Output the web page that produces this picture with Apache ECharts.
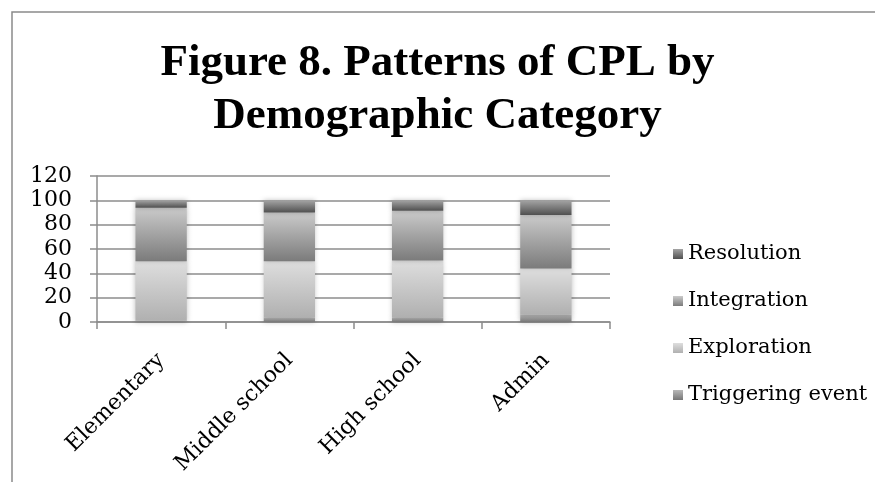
<!DOCTYPE html>
<html>
<head>
<meta charset="utf-8">
<script src="https://cdn.jsdelivr.net/npm/echarts@6/dist/echarts.min.js"></script>
<style>
html,body{margin:0;padding:0;background:#fff;}
#chart{width:875px;height:482px;}
</style>
</head>
<body>
<div id="chart"></div>
<script>
const categories = ['Elementary', 'Middle school', 'High school', 'Admin'];
const triggering = [1, 4, 4, 6];
const exploration = [49, 46, 46.5, 38];
const integration = [44, 40, 41, 44];
const resolution = [6, 10, 8.5, 12];
const yTicks = [0, 20, 40, 60, 80, 100, 120];

const FONT = 'DejaVu Serif';
const TFONT = 'Liberation Serif';
function grad(top, bottom) {
  return new echarts.graphic.LinearGradient(0, 0, 0, 1, [
    { offset: 0, color: top }, { offset: 1, color: bottom }
  ]);
}
function mk(name, data, top, bottom) {
  return {
    name: name, type: 'bar', stack: 'all', data: data, barWidth: '40%',
    itemStyle: { color: grad(top, bottom), shadowBlur: 5, shadowColor: 'rgba(0,0,0,0.25)' },
    emphasis: { disabled: true }
  };
}
const chart = echarts.init(document.getElementById('chart'), null, { renderer: 'canvas' });
chart.setOption({
  animation: false,
  backgroundColor: '#fff',
  title: {
    text: 'Figure 8. Patterns of CPL by\nDemographic Category',
    left: 'center', top: 32,
    textStyle: { fontFamily: TFONT, fontWeight: 'bold', fontSize: 45, lineHeight: 53, color: '#000' }
  },
  graphic: [{
    type: 'rect', shape: { x: 12, y: 12, width: 900, height: 500 },
    style: { fill: 'none', stroke: '#8a8a8a', lineWidth: 1.5 }, silent: true
  }],
  legend: {
    orient: 'vertical', left: 668, top: 237, itemWidth: 10, itemHeight: 10, itemGap: 23,
    data: ['Resolution', 'Integration', 'Exploration', 'Triggering event'],
    textStyle: { fontFamily: FONT, fontSize: 21, lineHeight: 24, color: '#000' },
    icon: 'rect'
  },
  grid: { left: 97, right: 265, top: 176, bottom: 160, containLabel: false },
  xAxis: {
    type: 'category', data: categories,
    axisLine: { lineStyle: { color: '#8c8c8c', width: 1.5 } },
    axisTick: { show: true, length: 7, lineStyle: { color: '#8c8c8c', width: 1.5 } },
    axisLabel: { rotate: 45, margin: 35, fontFamily: FONT, fontSize: 22, color: '#000', interval: 0 }
  },
  yAxis: {
    type: 'value', min: 0, max: 120, interval: 20,
    axisLine: { show: true, lineStyle: { color: '#8c8c8c', width: 1.5 } },
    axisTick: { show: true, length: 7, lineStyle: { color: '#8c8c8c', width: 1.5 } },
    splitLine: { lineStyle: { color: '#8c8c8c', width: 1.5 } },
    axisLabel: {
      margin: 25, fontFamily: FONT, fontSize: 22, color: '#000',
      formatter: function (v) { return yTicks.indexOf(v) >= 0 ? String(v) : ''; }
    }
  },
  series: [
    mk('Triggering event', triggering, '#b8b8b8', '#767676'),
    mk('Exploration', exploration, '#dedede', '#b0b0b0'),
    mk('Integration', integration, '#cbcbcb', '#7b7b7b'),
    mk('Resolution', resolution, '#a4a4a4', '#505050')
  ]
});
</script>
</body>
</html>
